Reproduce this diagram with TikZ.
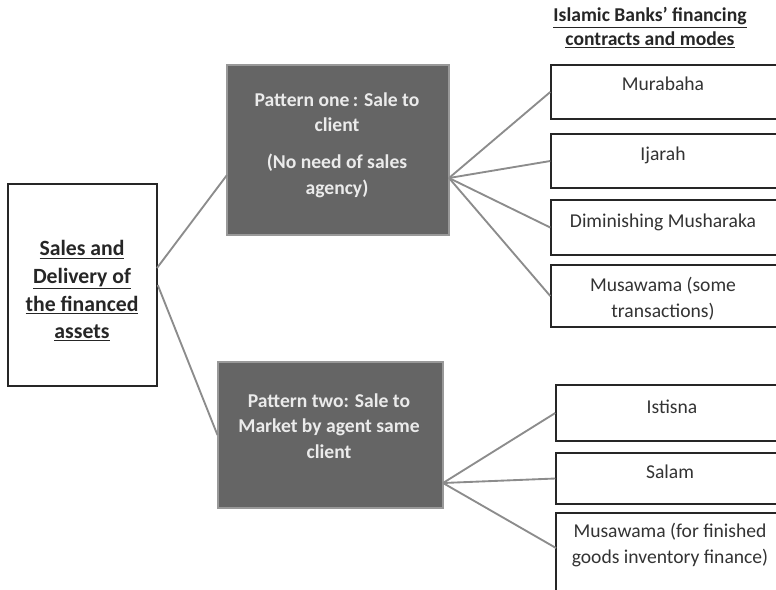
\documentclass[tikz,border=0pt]{standalone}
\usepackage{fontspec}
\setmainfont{Carlito}
\usetikzlibrary{fit}
\definecolor{dk}{HTML}{656565}
\definecolor{ln}{HTML}{8C8C8C}
\begin{document}
\begin{tikzpicture}[x=0.75pt,y=-0.75pt,
  wbox/.style={draw=black!85,line width=1.1pt,fill=white,inner sep=0pt},
  dbox/.style={draw=black!40,line width=0.8pt,fill=dk,inner sep=0pt},
  conn/.style={draw=ln,line width=1.4pt},
  txt/.style={font=\fontsize{14.7}{19.5}\selectfont,align=center,inner sep=0pt,text=black!80},
  btxt/.style={font=\fontsize{14.7}{18}\selectfont\bfseries,align=center,inner sep=0pt,text=black!85},
  stxt/.style={font=\fontsize{16.3}{20.7}\selectfont\bfseries,align=center,inner sep=0pt,text=black!85},
  wtxt/.style={font=\fontsize{14.7}{19}\selectfont\bfseries,align=center,inner sep=0pt,text=white!92!black}]
\useasboundingbox (0,0) rectangle (776,590);
\clip (0,0) rectangle (776,590);
% boxes
\node[wbox, fit={(8,184) (157,386)}] (src) {};
\node[dbox, fit={(227,65) (449,235)}] (p1) {};
\node[dbox, fit={(218,362) (443,508)}] (p2) {};
\node[wbox, fit={(551,65) (779,119)}] (m1) {};
\node[wbox, fit={(551,134) (779,188)}] (m2) {};
\node[wbox, fit={(551,200) (779,255)}] (m3) {};
\node[wbox, fit={(551,265) (779,327)}] (m4) {};
\node[wbox, fit={(556,385) (779,441)}] (n1) {};
\node[wbox, fit={(556,453) (779,504)}] (n2) {};
\node[wbox, fit={(556,513) (779,596)}] (n3) {};
% connector points
\coordinate (s1) at (157,268);
\coordinate (p1in) at (227,175);
\coordinate (f1) at (449,178);
\coordinate (f2) at (443,483);
\coordinate (n3in) at (556,548);
% connectors
\draw[conn] (s1) -- (p1in);
\draw[conn] (src.east) -- (p2.west);
\draw[conn] (f1) -- (m1.west);
\draw[conn] (f1) -- (m2.west);
\draw[conn] (f1) -- (m3.west);
\draw[conn] (f1) -- (m4.west);
\draw[conn] (f2) -- (n1.west);
\draw[conn] (f2) -- (n2.west);
\draw[conn] (f2) -- (n3in);
% texts
\node[btxt] (title) at (650,28) {\underline{Islamic Banks’ financing}\\\underline{contracts and modes}};
\node[stxt] (srct) at (82,291) {\underline{Sales and}\\\underline{Delivery of}\\\underline{the financed}\\\underline{assets}};
\node[wtxt] (p1t) at (337,145) {Pattern one\,: Sale to\\client\\[9pt](No need of sales\\agency)};
\node[wtxt] (p2t) at (329,426) {Pattern two: Sale to\\Market by agent same\\client};
\node[txt] (m1t) at (663,84) {Murabaha};
\node[txt] (m2t) at (663,155) {Ijarah};
\node[txt] (m3t) at (663,222) {Diminishing Musharaka};
\node[txt] (m4t) at (663,299) {Musawama (some\\transactions)};
\node[txt] (n1t) at (672,407) {Istisna};
\node[txt] (n2t) at (670,472) {Salam};
\node[txt] (n3t) at (670,545) {Musawama (for finished\\goods inventory finance)};
\end{tikzpicture}
\end{document}
